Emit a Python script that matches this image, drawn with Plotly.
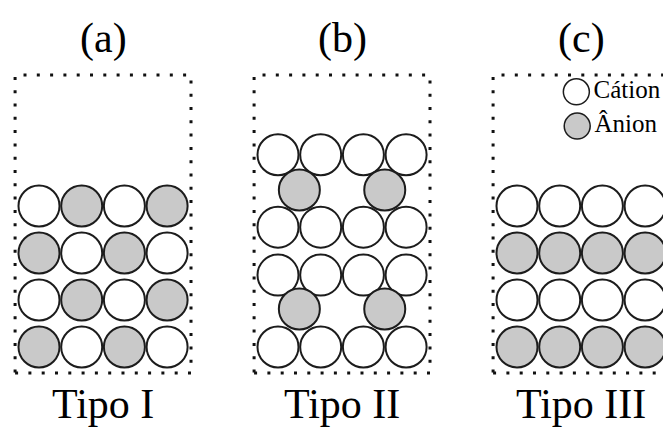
import plotly.graph_objects as go

# ---- lattice data (column index, row height in lattice units) ----
panel_letters = ["(a)", "(b)", "(c)"]
panel_names = ["Tipo I", "Tipo II", "Tipo III"]

# Tipo I: checkerboard arrangement
tipo1_cation_x = [1, 3, 0, 2, 1, 3, 0, 2]
tipo1_cation_y = [0, 0, 1, 1, 2, 2, 3, 3]
tipo1_anion_x = [0, 2, 1, 3, 0, 2, 1, 3]
tipo1_anion_y = [0, 0, 1, 1, 2, 2, 3, 3]

# Tipo II: paired cation rows with anions sitting in the hollows
tipo2_cation_x = [0, 1, 2, 3, 0, 1, 2, 3, 0, 1, 2, 3, 0, 1, 2, 3]
tipo2_cation_y = [0, 0, 0, 0, 1.53, 1.53, 1.53, 1.53,
                  2.55, 2.55, 2.55, 2.55, 4.09, 4.09, 4.09, 4.09]
tipo2_anion_x = [0.5, 2.5, 0.5, 2.5]
tipo2_anion_y = [0.81, 0.81, 3.34, 3.34]

# Tipo III: alternating layers
tipo3_cation_x = [0, 1, 2, 3, 0, 1, 2, 3]
tipo3_cation_y = [1, 1, 1, 1, 3, 3, 3, 3]
tipo3_anion_x = [0, 1, 2, 3, 0, 1, 2, 3]
tipo3_anion_y = [0, 0, 0, 0, 2, 2, 2, 2]

legend_labels = ["Cátion", "Ânion"]
legend_x = [1.39, 1.41]
legend_y = [5.43, 4.70]

# ---- styling / geometry ----
W, H = 663, 429
UX, UY = 42.7, 47.0          # pixels per lattice unit
ORIGINS = [(39, 347), (278, 347), (517, 347)]  # pixel centre of (0, 0)
FRAME = dict(x0=-0.56, x1=3.56, y0=-0.553, y1=5.787)
PAD = 8
FONT = "Liberation Serif"
EDGE = "#1c1c1c"
ANION_FILL = "#c9c9c9"
CATION_FILL = "#ffffff"
ION_SIZE = 41

panels = [
    (tipo1_cation_x, tipo1_cation_y, tipo1_anion_x, tipo1_anion_y),
    (tipo2_cation_x, tipo2_cation_y, tipo2_anion_x, tipo2_anion_y),
    (tipo3_cation_x, tipo3_cation_y, tipo3_anion_x, tipo3_anion_y),
]

fig = go.Figure()
layout_axes = {}
shapes = []
annotations = []

for i, (cx, cy, ax_, ay) in enumerate(panels):
    n = "" if i == 0 else str(i + 1)
    xa, ya = "x" + n, "y" + n
    ox, oy = ORIGINS[i]
    left_px = ox + FRAME["x0"] * UX - PAD
    right_px = min(ox + FRAME["x1"] * UX + PAD, W)
    top_px = oy - FRAME["y1"] * UY - PAD
    bot_px = oy - FRAME["y0"] * UY + PAD
    layout_axes["xaxis" + n] = dict(
        domain=[left_px / W, right_px / W],
        range=[(left_px - ox) / UX, (right_px - ox) / UX],
        visible=False, anchor=ya,
    )
    layout_axes["yaxis" + n] = dict(
        domain=[(H - bot_px) / H, (H - top_px) / H],
        range=[(oy - bot_px) / UY, (oy - top_px) / UY],
        visible=False, anchor=xa,
    )

    for xs, ys, fill in ((cx, cy, CATION_FILL), (ax_, ay, ANION_FILL)):
        fig.add_trace(go.Scatter(
            x=xs, y=ys, xaxis=xa, yaxis=ya, mode="markers",
            marker=dict(size=ION_SIZE, color=fill,
                        line=dict(color=EDGE, width=2)),
            cliponaxis=False, showlegend=False, hoverinfo="skip",
        ))

    shapes.append(dict(
        type="rect", xref=xa, yref=ya, layer="below",
        line=dict(color="#111111", width=3, dash="3px,10.3px"),
        **FRAME,
    ))

    annotations.append(dict(
        text=panel_letters[i], xref=xa, yref="paper", x=1.5, y=1 - 38 / H,
        showarrow=False, xanchor="center", yanchor="middle",
        font=dict(family=FONT, size=42, color="black"),
    ))
    annotations.append(dict(
        text=panel_names[i], xref=xa, yref="paper", x=1.5, y=1 - 404 / H,
        showarrow=False, xanchor="center", yanchor="middle",
        font=dict(family=FONT, size=42, color="black"),
    ))

# key for the two ion types, inside panel (c)
fig.add_trace(go.Scatter(
    x=legend_x, y=legend_y, xaxis="x3", yaxis="y3",
    mode="markers+text", text=legend_labels, textposition="middle right",
    textfont=dict(family=FONT, size=25, color="black"),
    marker=dict(size=26, color=[CATION_FILL, ANION_FILL],
                line=dict(color=EDGE, width=1.5)),
    cliponaxis=False, showlegend=False, hoverinfo="skip",
))

fig.update_layout(
    width=W, height=H,
    margin=dict(l=0, r=0, t=0, b=0),
    paper_bgcolor="white", plot_bgcolor="white",
    shapes=shapes, annotations=annotations,
    **layout_axes,
)

fig.write_html("out.html")
